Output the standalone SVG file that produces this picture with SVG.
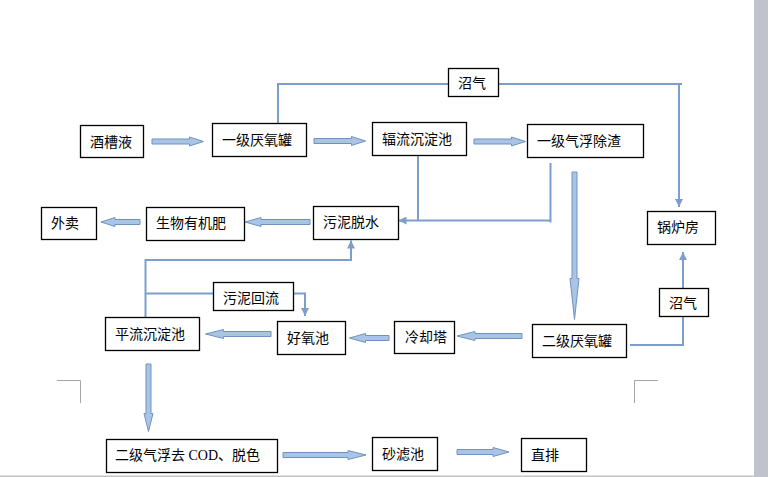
<svg xmlns="http://www.w3.org/2000/svg" width="768" height="477" viewBox="0 0 768 477">
<defs>
<style>
.box{fill:#fff;stroke:#000;stroke-width:1.3}
.t{font-family:"Noto Sans CJK SC","Noto Sans",sans-serif;font-size:14px;fill:#000}
.ln{fill:none;stroke:#7b9fca;stroke-width:2}
.blk{fill:#a9c4e4;stroke:#6f93c1;stroke-width:1}
.mk{fill:none;stroke:#a6a6a6;stroke-width:1}
</style>
<marker id="ah" viewBox="0 0 10 10" refX="10" refY="5" markerWidth="8" markerHeight="8" markerUnits="userSpaceOnUse" orient="auto">
<path d="M0,0 L10,5 L0,10 z" fill="#7b9fca"/>
</marker>
</defs>
<rect width="768" height="477" fill="#fff"/>
<rect x="754" y="0" width="14" height="477" fill="#c0c3cb"/>
<rect x="0" y="475.5" width="754" height="1.5" fill="#c4c4c4"/>
<g id="corner-marks">
<path class="mk" d="M57,380.5 H80.5 V403"/>
<path class="mk" d="M634.5,403 V380.5 H658"/>
</g>
<g id="connectors">
<polyline class="ln" points="278,123.5 278,84 682,84"/>
<line class="ln" x1="679" y1="84" x2="679" y2="207" marker-end="url(#ah)"/>
<polyline class="ln" points="630,345 683,345 683,252" marker-end="url(#ah)"/>
<line class="ln" x1="418" y1="155.5" x2="418" y2="220.5"/>
<line class="ln" x1="550.5" y1="163" x2="550.5" y2="222.5"/>
<line class="ln" x1="550.5" y1="220.5" x2="398.5" y2="220.5" marker-end="url(#ah)"/>
<polyline class="ln" points="145.5,317 145.5,260 351,260 351,240.5" marker-end="url(#ah)"/>
<polyline class="ln" points="145.5,293.5 305,293.5 305,316" marker-end="url(#ah)"/>
<path class="blk" d="M152,139 H189.5 V137 L203.5,141.5 L189.5,146 V144 H152 Z"/>
<path class="blk" d="M314,138.5 H351.5 V136.5 L365.5,141 L351.5,145.5 V143.5 H314 Z"/>
<path class="blk" d="M474,139 H511.5 V137 L525.5,141.5 L511.5,146 V144 H474 Z"/>
<path class="blk" d="M283,452.5 H348 V450.5 L366,455 L348,459.5 V457.5 H283 Z"/>
<path class="blk" d="M457,449.5 H493 V447.5 L509,452 L493,456.5 V454.5 H457 Z"/>
<path class="blk" d="M140,219.5 H115 V217.5 L101,222 L115,226.5 V224.5 H140 Z"/>
<path class="blk" d="M310,219.5 H261 V217.5 L245,222 L261,226.5 V224.5 H310 Z"/>
<path class="blk" d="M522,333.5 H475 V331.5 L457,336 L475,340.5 V338.5 H522 Z"/>
<path class="blk" d="M389,335.5 H365.5 V333.5 L349.5,338 L365.5,342.5 V340.5 H389 Z"/>
<path class="blk" d="M271,331.5 H223.5 V329.5 L205.5,334 L223.5,338.5 V336.5 H271 Z"/>
<path class="blk" d="M572,172 V278.5 H570 L574.5,319.5 L579,278.5 H577 V172 Z"/>
<path class="blk" d="M146,364 V413.5 H144 L148.5,431.5 L153,413.5 H151 V364 Z"/>
</g>
<g id="n1"><rect class="box" x="80.5" y="125.5" width="63" height="32"/><text class="t" x="90" y="146.5">酒槽液</text></g>
<g id="n2"><rect class="box" x="212.5" y="123.5" width="94" height="33"/><text class="t" x="222" y="145">一级厌氧罐</text></g>
<g id="n3"><rect class="box" x="372.5" y="122.5" width="94" height="33"/><text class="t" x="382" y="144">辐流沉淀池</text></g>
<g id="n4"><rect class="box" x="448.5" y="68.5" width="50" height="28"/><text class="t" x="458" y="88">沼气</text></g>
<g id="n5"><rect class="box" x="527.5" y="124.5" width="116" height="33"/><text class="t" x="537" y="146">一级气浮除渣</text></g>
<g id="n6"><rect class="box" x="41.5" y="207.5" width="55" height="32"/><text class="t" x="51" y="228">外卖</text></g>
<g id="n7"><rect class="box" x="146.5" y="207.5" width="98" height="33"/><text class="t" x="156" y="228">生物有机肥</text></g>
<g id="n8"><rect class="box" x="313.5" y="206.5" width="85" height="33"/><text class="t" x="323" y="227">污泥脱水</text></g>
<g id="n9"><rect class="box" x="647.5" y="211.5" width="68" height="33"/><text class="t" x="657" y="232">锅炉房</text></g>
<g id="n10"><rect class="box" x="659.5" y="288.5" width="49" height="28"/><text class="t" x="669" y="308">沼气</text></g>
<g id="n11"><rect class="box" x="532.5" y="324.5" width="94" height="33"/><text class="t" x="542" y="345.5">二级厌氧罐</text></g>
<g id="n12"><rect class="box" x="394.5" y="321.5" width="60" height="32"/><text class="t" x="405" y="341.5">冷却塔</text></g>
<g id="n13"><rect class="box" x="277.5" y="321.5" width="68" height="33"/><text class="t" x="287" y="342.5">好氧池</text></g>
<g id="n14"><rect class="box" x="105.5" y="317.5" width="94" height="33"/><text class="t" x="115" y="338.5">平流沉淀池</text></g>
<g id="n15"><rect class="box" x="213.5" y="282.5" width="80" height="28"/><text class="t" x="223" y="303">污泥回流</text></g>
<g id="n16"><rect class="box" x="106.5" y="439.5" width="171" height="33"/><text class="t" x="115" y="460">二级气浮去<tspan font-family="'Liberation Serif',serif"> COD</tspan>、脱色</text></g>
<g id="n17"><rect class="box" x="372.5" y="437.5" width="65" height="33"/><text class="t" x="382" y="458.5">砂滤池</text></g>
<g id="n18"><rect class="box" x="521.5" y="438.5" width="65" height="33"/><text class="t" x="531" y="459.5">直排</text></g>
</svg>
